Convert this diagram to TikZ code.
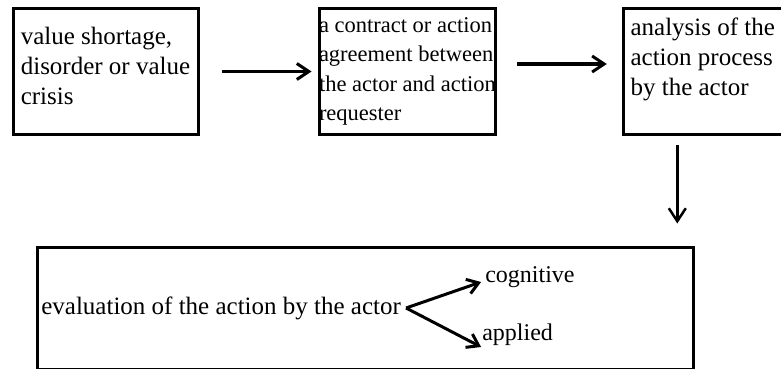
\documentclass[tikz,border=0pt]{standalone}
\usepackage{fontspec}
\setmainfont{Liberation Serif}
\usetikzlibrary{arrows.meta, positioning}

\begin{document}
\begin{tikzpicture}[
        cell/.style={
            draw,
            line width=3pt,
            minimum width=185pt,
            minimum height=125pt,
            inner xsep=0pt,
            font=\fontsize{25}{30}\selectfont,
            align=left
        },
        lbl/.style={inner sep=0pt, font=\fontsize{25}{30}\selectfont},
        flow/.style={line width=3pt, -{Straight Barb[length=12pt,width=16pt]}}
    ]
        \useasboundingbox (0,0) rectangle (781pt,-369pt);

        % top row of boxes
        \node[cell] (shortage) at (105.5pt,-71.5pt) {value shortage,\\disorder or value\\crisis\\[-18pt] ~};
        \node[cell, minimum width=176.5pt, font=\fontsize{22.5}{29.5}\selectfont,
            right=118pt of shortage] (contract)
            {a contract or action\\agreement between\\the actor and action\\requester};
        \node[cell, minimum width=159pt, right=124.5pt of contract] (analysis)
            {analysis of the\\action process\\by the actor\\ ~};

        % bottom box
        \node[draw, line width=3pt, minimum width=655.4pt, minimum height=122pt]
            (evalbox) at (365.3pt,-308pt) {};
        \node[lbl, inner xsep=5pt, anchor=west] (evaltext) at (evalbox.west)
            {evaluation of the action by the actor};
        \node[lbl, font=\fontsize{24}{28}\selectfont, anchor=west] (cog)
            at ([xshift=79pt,yshift=31pt]evaltext.east) {cognitive};
        \node[lbl, font=\fontsize{24}{28}\selectfont, anchor=west] (app)
            at ([xshift=76pt,yshift=-27pt]evaltext.east) {applied};

        % arrows
        \draw[flow, shorten <=22pt, shorten >=6pt] (shortage.east) -- (contract.west);
        \draw[flow, shorten <=20pt, shorten >=15pt]
            ([yshift=7.5pt]contract.east) -- ([yshift=7.5pt]analysis.west);
        \draw[line width=2.5pt, -{Straight Barb[length=13pt,width=17pt]}, shorten <=9pt, shorten >=22pt]
            ([xshift=-25.5pt]analysis.south) -- ([xshift=-25.5pt]analysis.south |- evalbox.north);
        \draw[flow, -{Straight Barb[length=11pt,width=15pt]}]
            (evaltext.east) -- ([xshift=-4pt,yshift=-5pt]cog.west);
        \draw[flow, -{Straight Barb[length=11pt,width=15pt]}]
            (evaltext.east) -- ([xshift=-1pt,yshift=-12pt]app.west);
    \end{tikzpicture}
\end{document}
